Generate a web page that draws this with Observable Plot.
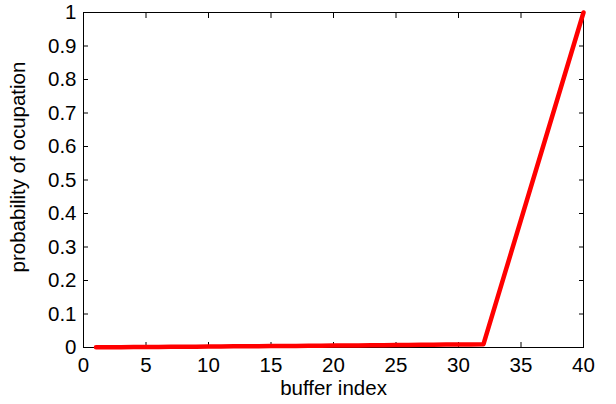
<!DOCTYPE html>
<html><head><meta charset="utf-8">
<script src="https://cdn.jsdelivr.net/npm/d3@7"></script>
<script src="https://cdn.jsdelivr.net/npm/@observablehq/plot@0.6"></script>
<style>body{margin:0;background:#fff}</style>
</head><body><div id="chart"></div>
<script>
const bufferIndex = [1,2,3,4,5,6,7,8,9,10,11,12,13,14,15,16,17,18,19,20,21,22,23,24,25,26,27,28,29,30,31,32,40];
const probability = [0.0005,0.0007,0.001,0.0012,0.0015,0.0018,0.002,0.0023,0.0026,0.003,0.0033,0.0035,0.0038,0.004,0.0042,0.0045,0.0048,0.005,0.0053,0.0056,0.006,0.0063,0.0066,0.007,0.0073,0.0076,0.008,0.0083,0.0086,0.009,0.0093,0.01,1];
const xTicks = [0,5,10,15,20,25,30,35,40];
const yTicks = [0,0.1,0.2,0.3,0.4,0.5,0.6,0.7,0.8,0.9,1];
const xLabel = "buffer index";
const yLabel = "probability of ocupation";
const data = bufferIndex.map((x,i)=>({x, y: probability[i]}));
const fmt = d => String(d);
const fs = 20.5;
const chart = Plot.plot({
  width: 616, height: 404,
  marginLeft: 83, marginRight: 33, marginTop: 12, marginBottom: 57,
  style: {fontFamily: "'Liberation Sans', Arial, sans-serif", fontSize: fs + "px", color: "#000", background: "#fff"},
  x: {domain: [0,40]},
  y: {domain: [0,1]},
  marks: [
    Plot.frame({stroke: "#000", strokeWidth: 1}),
    Plot.axisX({ticks: xTicks, tickSize: -5, tickPadding: 15, fontSize: fs, label: null, tickFormat: fmt}),
    Plot.axisX({ticks: xTicks, anchor: "top", tickSize: -5, tickFormat: () => "", label: null}),
    Plot.axisY({ticks: yTicks, tickSize: -5, tickPadding: 12, fontSize: fs, label: null, tickFormat: fmt}),
    Plot.axisY({ticks: yTicks, anchor: "right", tickSize: -5, tickFormat: () => "", label: null}),
    Plot.text([xLabel], {frameAnchor: "bottom", dy: 41, lineAnchor: "middle", textAnchor: "middle", fontSize: fs, fill: "#000"}),
    Plot.text([yLabel], {frameAnchor: "left", dx: -65, dy: -13, lineAnchor: "middle", textAnchor: "middle", rotate: -90, fontSize: fs, fill: "#000"}),
    Plot.line(data, {x: "x", y: "y", stroke: "#ff0000", strokeWidth: 4.5})
  ]
});
document.getElementById("chart").appendChild(chart);
</script></body></html>
